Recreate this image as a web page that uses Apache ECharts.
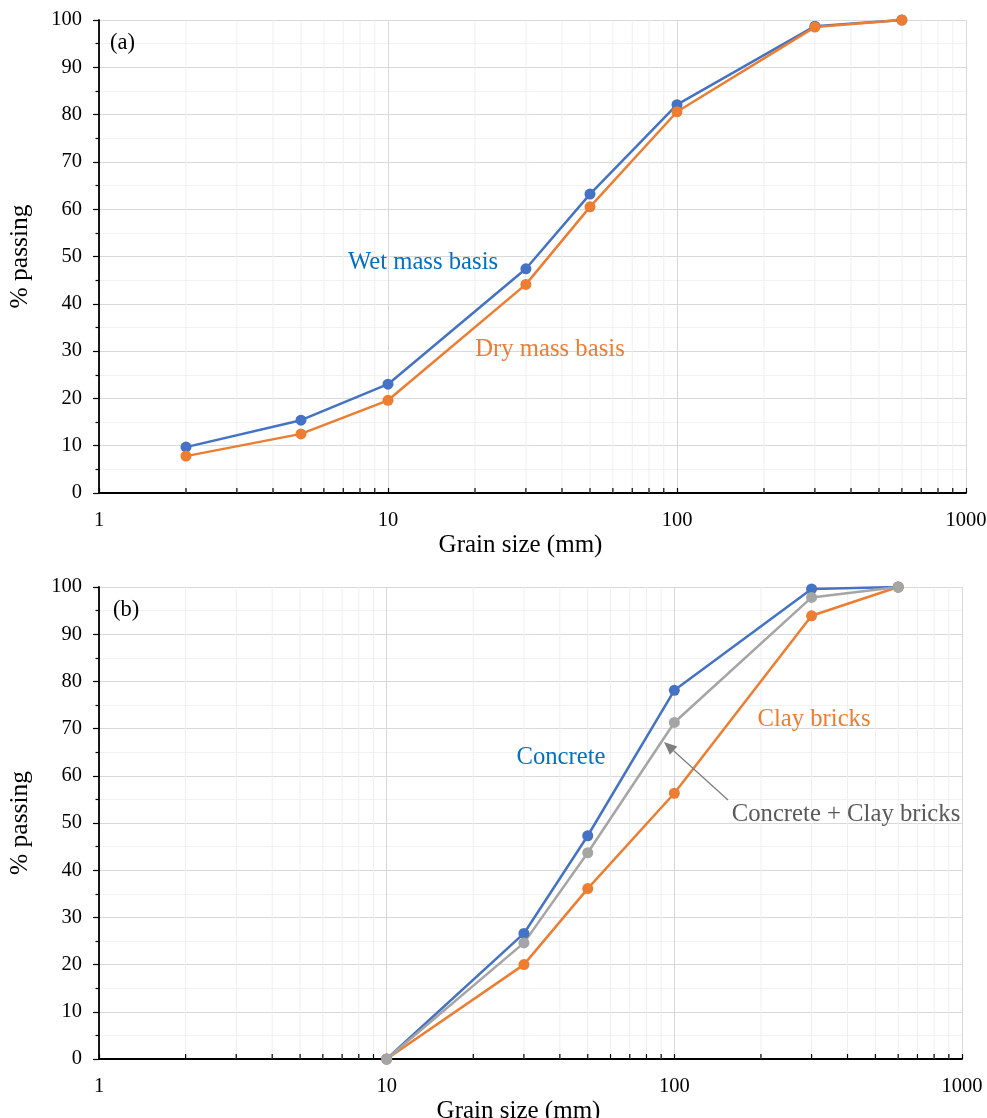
<!DOCTYPE html>
<html>
<head>
<meta charset="utf-8">
<script src="https://cdn.jsdelivr.net/npm/echarts@6/dist/echarts.min.js"></script>
<style>html,body{margin:0;padding:0;background:#fff;}#c{width:987px;height:1118px;}</style>
</head>
<body>
<div id="c"></div>
<script>
// ---- data ----
const sizesA = [2, 5, 10, 30, 50, 100, 300, 600];
const wetA = [9.7, 15.4, 23.0, 47.4, 63.2, 82.1, 98.7, 100];
const dryA = [7.8, 12.5, 19.6, 44.1, 60.5, 80.6, 98.5, 100];

const sizesB = [10, 30, 50, 100, 300, 600];
const concreteB = [0, 26.6, 47.3, 78.1, 99.6, 100];
const clayB = [0, 20.0, 36.1, 56.3, 93.9, 100];
const mixB = [0, 24.6, 43.7, 71.3, 97.8, 100];

const minorX = [2,3,4,5,6,7,8,9,20,30,40,50,60,70,80,90,200,300,400,500,600,700,800,900];
const xTickLabels = ['1', '10', '100', '1000'];

const FONT = "'Liberation Serif','Times New Roman',serif";
const BLUE = '#4472C4', ORANGE = '#ED7D31', GRAY = '#A5A5A5';

function pairs(xs, ys) { return xs.map((x, i) => [x, ys[i]]); }

function xAxisDef(gi) {
  return {
    type: 'log', logBase: 10, min: 1, max: 1000, gridIndex: gi,
    name: 'Grain size (mm)', nameLocation: 'middle', nameGap: 40,
    nameTextStyle: { fontFamily: FONT, fontSize: 25, color: '#000', padding: [0, 24, 0, 0] },
    axisLine: { show: true, onZero: false, lineStyle: { color: '#000', width: 1.8 } },
    axisTick: { show: true, inside: true, length: 5, lineStyle: { color: '#000', width: 1.2 } },
    axisLabel: { fontFamily: FONT, fontSize: 20.5, color: '#000', margin: 17,
      formatter: v => { const s = String(Math.round(v)); return xTickLabels.includes(s) ? s : ''; } },
    splitLine: { show: true, lineStyle: { color: '#D9D9D9', width: 1 } }
  };
}
function yAxisDef(gi) {
  return {
    type: 'value', min: 0, max: 100, interval: 10, gridIndex: gi,
    name: '% passing', nameLocation: 'middle', nameGap: 66,
    nameTextStyle: { fontFamily: FONT, fontSize: 25.5, color: '#000' },
    axisLine: { show: true, lineStyle: { color: '#000', width: 1.8 } },
    axisTick: { show: true, inside: false, length: 6, lineStyle: { color: '#000', width: 1.2 } },
    minorTick: { show: true, splitNumber: 2, length: 3.5, lineStyle: { color: '#000', width: 1.2 } },
    axisLabel: { fontFamily: FONT, fontSize: 20.5, color: '#000', margin: 17 },
    splitLine: { show: true, lineStyle: { color: '#D9D9D9', width: 1 } },
    minorSplitLine: { show: true, lineStyle: { color: '#F2F2F2', width: 1 } }
  };
}
function minorSeries(gi) {
  return {
    type: 'custom', xAxisIndex: gi, yAxisIndex: gi, silent: true, z: 1, clip: false,
    data: minorX.map(v => [v]),
    renderItem: (params, api) => {
      const x = api.value(0);
      const t = api.coord([x, 100]);
      const b = api.coord([x, 0]);
      return { type: 'group', children: [
        { type: 'line', shape: { x1: t[0], y1: t[1], x2: b[0], y2: b[1] }, style: { stroke: '#EFEFEF', lineWidth: 1 } },
        { type: 'line', shape: { x1: b[0], y1: b[1], x2: b[0], y2: b[1] - 5 }, style: { stroke: '#000', lineWidth: 1.2 } }
      ] };
    }
  };
}
function lineSeries(name, gi, xs, ys, color) {
  return {
    name, type: 'line', xAxisIndex: gi, yAxisIndex: gi, data: pairs(xs, ys),
    symbol: 'circle', symbolSize: 11, z: 3,
    lineStyle: { color, width: 2.5 }, itemStyle: { color }
  };
}
function txt(text, x, y, color, size, align) {
  return { type: 'text', x, y, z: 10, style: { text, fill: color, font: size + 'px ' + FONT,
    textAlign: align || 'center', textVerticalAlign: 'middle', align: align || 'center', verticalAlign: 'middle' } };
}

const chart = echarts.init(document.getElementById('c'), null, { renderer: 'canvas' });
chart.setOption({
  backgroundColor: '#fff',
  animation: false,
  grid: [
    { left: 99, top: 20, width: 867, height: 473, containLabel: false, outerBoundsMode: 'none' },
    { left: 99, top: 587, width: 863, height: 472, containLabel: false, outerBoundsMode: 'none' }
  ],
  xAxis: [xAxisDef(0), xAxisDef(1)],
  yAxis: [yAxisDef(0), yAxisDef(1)],
  series: [
    minorSeries(0), minorSeries(1),
    lineSeries('Wet mass basis', 0, sizesA, wetA, BLUE),
    lineSeries('Dry mass basis', 0, sizesA, dryA, ORANGE),
    lineSeries('Concrete', 1, sizesB, concreteB, BLUE),
    lineSeries('Clay bricks', 1, sizesB, clayB, ORANGE),
    lineSeries('Concrete + Clay bricks', 1, sizesB, mixB, GRAY)
  ],
  graphic: [
    txt('(a)', 110, 43, '#000', 22.5, 'left'),
    txt('(b)', 113, 610, '#000', 22.5, 'left'),
    txt('Wet mass basis', 423, 263, '#0070C0', 24.7),
    txt('Dry mass basis', 550, 350, '#ED7D31', 24.7),
    txt('Concrete', 561, 758, '#0070C0', 24.7),
    txt('Clay bricks', 814, 720, '#ED7D31', 24.7),
    txt('Concrete + Clay bricks', 846, 815, '#595959', 24.7),
    { type: 'line', z: 10, shape: { x1: 728, y1: 800, x2: 673.6, y2: 750.7 }, style: { stroke: '#7F7F7F', lineWidth: 1.3 } },
    { type: 'polygon', z: 10, shape: { points: [[664, 742], [677.3, 746.6], [669.9, 754.8]] }, style: { fill: '#7F7F7F' } }
  ]
});
</script>
</body>
</html>
